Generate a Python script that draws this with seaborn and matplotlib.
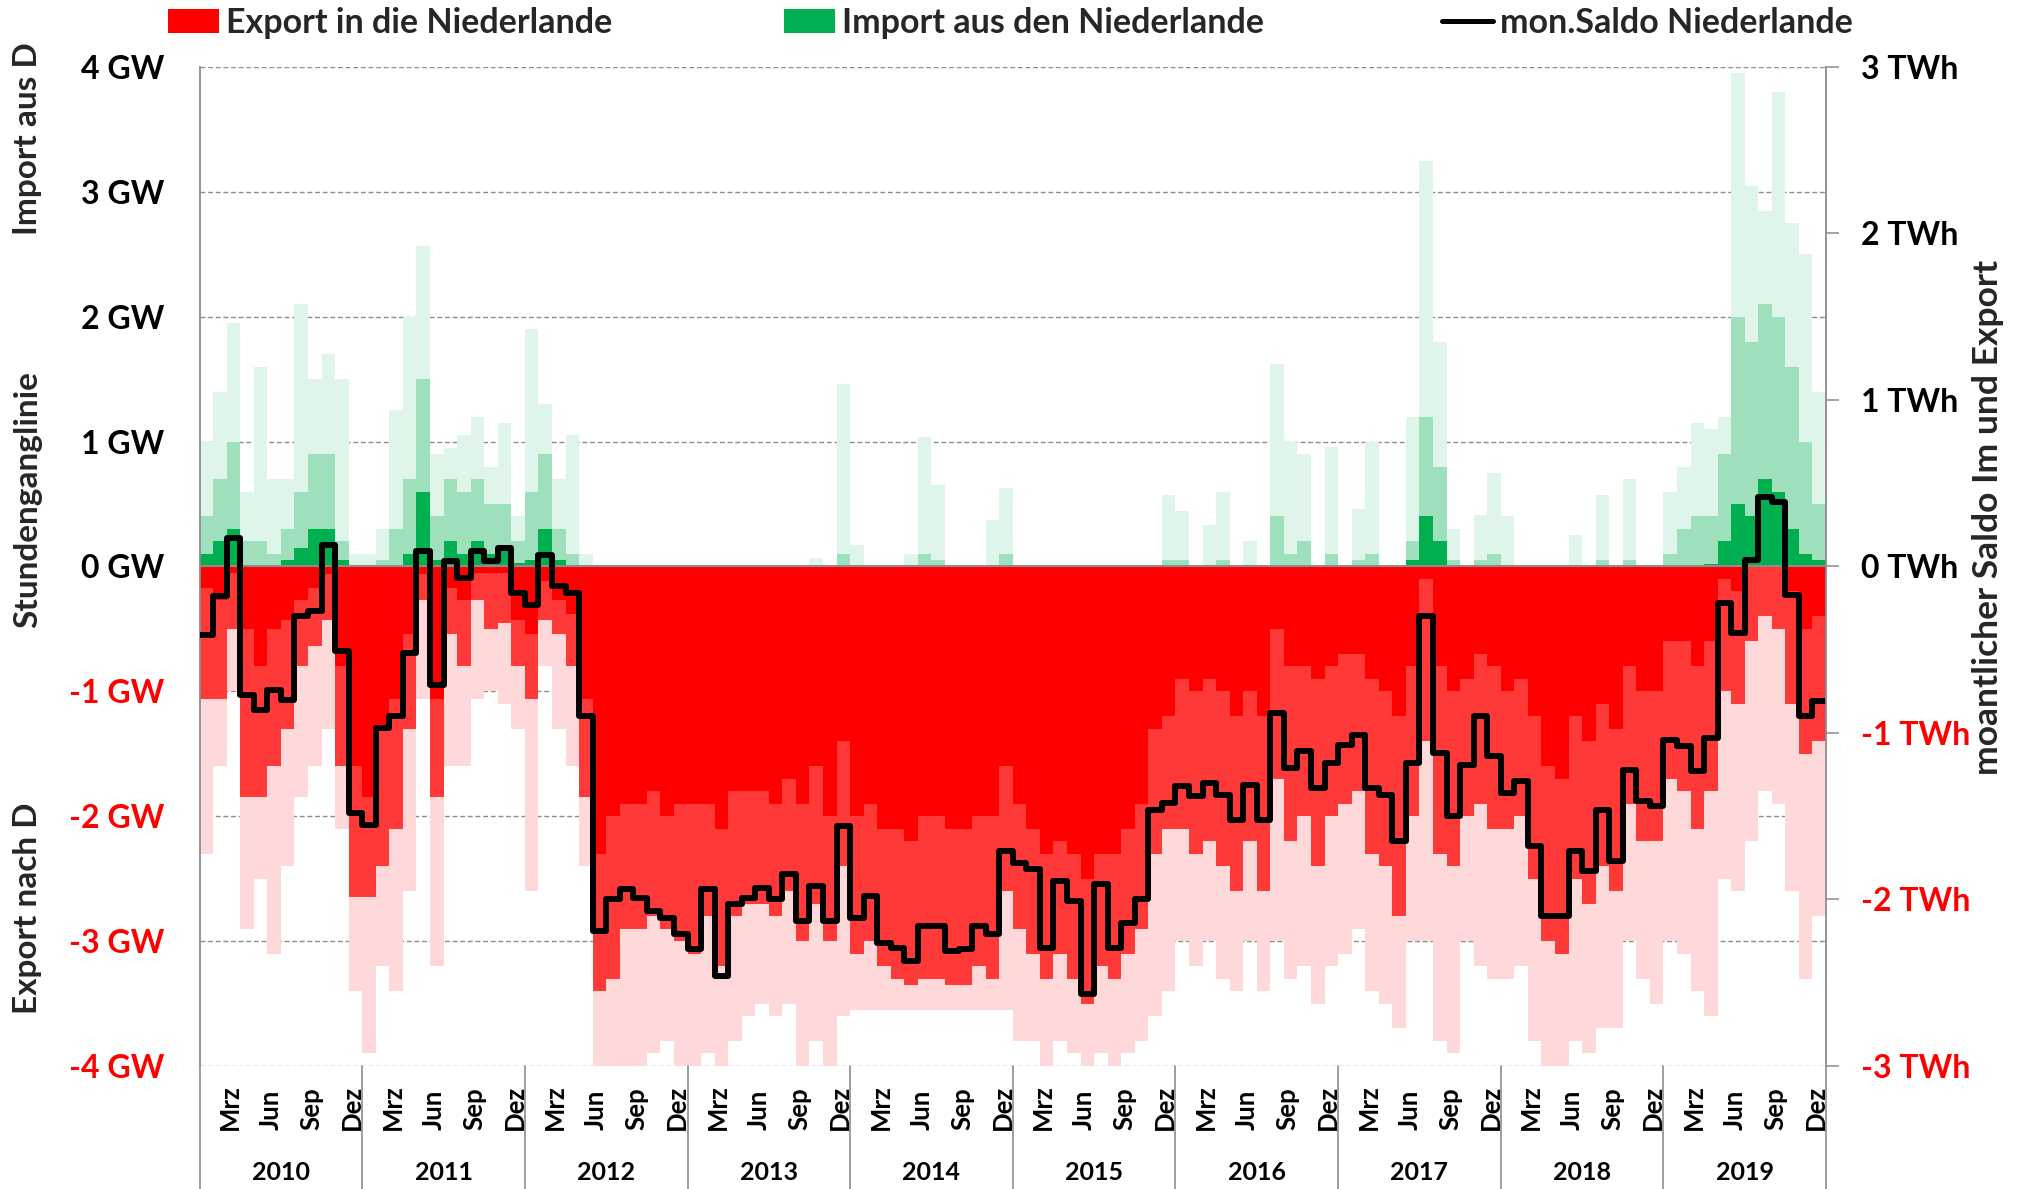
import numpy as np
import pandas as pd
import matplotlib
matplotlib.use("Agg")
import matplotlib.pyplot as plt
import seaborn as sns
from matplotlib.patches import Patch
from matplotlib.lines import Line2D

# ---------------- data ----------------
years = list(range(2010, 2020))
quarter_months = ["Mrz", "Jun", "Sep", "Dez"]
quarter_month_index = [2, 5, 8, 11]

gw_ticks = [4, 3, 2, 1, 0, -1, -2, -3, -4]
gw_labels = ["4 GW", "3 GW", "2 GW", "1 GW", "0 GW", "-1 GW", "-2 GW", "-3 GW", "-4 GW"]
twh_ticks = [3, 2, 1, 0, -1, -2, -3]
twh_labels = ["3 TWh", "2 TWh", "1 TWh", "0 TWh", "-1 TWh", "-2 TWh", "-3 TWh"]

# monthly saldo (TWh), Jan 2010 .. Dec 2019
saldo_twh = [
    -0.41, -0.18, 0.17, -0.77, -0.86, -0.74, -0.80, -0.30, -0.27, 0.13, -0.51, -1.48,   # 2010
    -1.55, -0.97, -0.90, -0.52, 0.09, -0.71, 0.03, -0.07, 0.09, 0.03, 0.11, -0.16,      # 2011
    -0.23, 0.07, -0.12, -0.16, -0.90, -2.19, -2.00, -1.94, -1.99, -2.07, -2.11, -2.21,  # 2012
    -2.30, -1.94, -2.46, -2.03, -1.99, -1.93, -2.00, -1.85, -2.13, -1.92, -2.13, -1.56,  # 2013
    -2.11, -1.98, -2.26, -2.29, -2.37, -2.16, -2.16, -2.31, -2.30, -2.16, -2.21, -1.71,  # 2014
    -1.78, -1.82, -2.29, -1.89, -2.01, -2.57, -1.91, -2.29, -2.14, -2.00, -1.46, -1.42,  # 2015
    -1.32, -1.38, -1.30, -1.37, -1.52, -1.31, -1.52, -0.88, -1.21, -1.11, -1.33, -1.18,  # 2016
    -1.07, -1.01, -1.33, -1.37, -1.65, -1.18, -0.30, -1.12, -1.50, -1.19, -0.90, -1.14,  # 2017
    -1.36, -1.29, -1.68, -2.10, -2.10, -1.71, -1.83, -1.46, -1.77, -1.22, -1.41, -1.44,  # 2018
    -1.04, -1.08, -1.23, -1.03, -0.22, -0.40, 0.04, 0.42, 0.39, -0.17, -0.90, -0.81,     # 2019
]

# hourly export envelope per month (GW): densely filled level, frequent level, extreme level
export_dense = [
    -0.17, -0.27, -0.05, -0.5, -0.8, -0.5, -0.43, -0.27, -0.17, -0.06, -0.8, -1.6,
    -1.85, -1.3, -1.06, -0.54, -0.06, -1.06, -0.17, -0.27, -0.05, -0.05, -0.05, -0.43,
    -0.54, -0.12, -0.27, -0.38, -1.06, -2.3, -2.0, -1.9, -1.9, -1.8, -2.0, -1.9,
    -1.9, -1.9, -2.1, -1.8, -1.8, -1.8, -1.9, -1.7, -1.9, -1.6, -2.0, -1.4,
    -2.0, -1.9, -2.1, -2.1, -2.2, -2.0, -2.0, -2.1, -2.1, -2.0, -2.0, -1.6,
    -1.9, -2.1, -2.3, -2.2, -2.3, -2.5, -2.3, -2.3, -2.1, -1.9, -1.3, -1.2,
    -0.9, -1.0, -0.9, -1.0, -1.2, -1.0, -1.2, -0.5, -0.8, -0.8, -0.9, -0.8,
    -0.7, -0.7, -0.9, -1.0, -1.2, -0.8, -0.1, -0.8, -1.0, -0.9, -0.7, -0.8,
    -1.0, -0.9, -1.2, -1.6, -1.7, -1.2, -1.4, -1.1, -1.3, -0.8, -1.0, -1.0,
    -0.6, -0.6, -0.8, -0.6, -0.1, -0.2, 0.0, 0.0, 0.0, -0.2, -0.5, -0.4,
]
export_mid = [
    -1.06, -1.06, -0.5, -1.85, -1.85, -1.6, -1.3, -0.8, -0.64, -0.43, -1.6, -2.65,
    -2.65, -2.4, -2.1, -1.3, -0.27, -1.85, -0.54, -0.8, -0.27, -0.5, -0.45, -0.8,
    -1.06, -0.43, -0.54, -0.8, -1.85, -3.4, -3.3, -2.9, -2.9, -2.8, -2.9, -3.0,
    -3.1, -2.8, -3.2, -2.8, -2.7, -2.7, -2.8, -2.6, -3.0, -2.7, -3.0, -2.4,
    -3.1, -3.0, -3.2, -3.3, -3.35, -3.3, -3.3, -3.35, -3.35, -3.2, -3.3, -2.6,
    -2.9, -3.1, -3.3, -3.1, -3.3, -3.5, -3.2, -3.3, -3.1, -2.9, -2.3, -2.1,
    -2.1, -2.3, -2.2, -2.4, -2.6, -2.2, -2.6, -1.7, -2.2, -2.0, -2.4, -2.0,
    -1.9, -1.8, -2.3, -2.4, -2.8, -2.0, -1.4, -2.3, -2.4, -2.0, -1.9, -2.1,
    -2.1, -2.0, -2.5, -3.0, -3.1, -2.5, -2.7, -2.4, -2.6, -1.9, -2.2, -2.2,
    -1.7, -1.8, -2.1, -1.8, -1.0, -1.1, -0.6, -0.4, -0.5, -1.1, -1.5, -1.4,
]
export_tail = [
    -2.3, -1.6, -1.0, -2.9, -2.5, -3.1, -2.4, -1.85, -1.6, -1.3, -2.1, -3.4,
    -3.9, -3.2, -3.4, -2.6, -1.06, -3.2, -1.6, -1.6, -1.06, -1.0, -1.1, -1.3,
    -2.6, -0.8, -1.3, -1.6, -2.4, -4.0, -4.0, -4.0, -4.0, -3.9, -3.8, -4.0,
    -4.0, -3.9, -4.0, -3.8, -3.6, -3.5, -3.6, -3.5, -4.0, -3.8, -4.0, -3.6,
    -3.55, -3.55, -3.55, -3.55, -3.55, -3.55, -3.55, -3.55, -3.55, -3.55, -3.55, -3.55,
    -3.8, -3.8, -4.0, -3.8, -3.9, -4.0, -3.9, -4.0, -3.9, -3.8, -3.6, -3.4,
    -3.0, -3.2, -3.0, -3.3, -3.4, -3.0, -3.4, -3.0, -3.3, -3.2, -3.5, -3.2,
    -3.1, -2.9, -3.4, -3.5, -3.7, -3.0, -3.0, -3.8, -3.9, -3.0, -3.2, -3.3,
    -3.3, -3.2, -3.8, -4.0, -4.0, -3.8, -3.9, -3.7, -3.7, -3.0, -3.3, -3.5,
    -3.0, -3.1, -3.4, -3.6, -2.5, -2.6, -2.2, -1.8, -1.9, -2.6, -3.3, -2.8,
]

# hourly import envelope per month (GW)
import_dense = [
    0.1, 0.2, 0.3, 0, 0, 0, 0.05, 0.15, 0.3, 0.3, 0.05, 0,
    0, 0, 0, 0.1, 0.6, 0.05, 0.2, 0.1, 0.2, 0.1, 0.15, 0.03,
    0.05, 0.3, 0.05, 0, 0, 0, 0, 0, 0, 0, 0, 0,
    0, 0, 0, 0, 0, 0, 0, 0, 0, 0, 0, 0,
    0, 0, 0, 0, 0, 0, 0, 0, 0, 0, 0, 0,
    0, 0, 0, 0, 0, 0, 0, 0, 0, 0, 0, 0,
    0, 0, 0, 0, 0, 0, 0, 0, 0, 0, 0, 0,
    0, 0, 0, 0, 0, 0.05, 0.4, 0.2, 0, 0, 0, 0,
    0, 0, 0, 0, 0, 0, 0, 0, 0, 0, 0, 0,
    0, 0, 0, 0.02, 0.2, 0.5, 0.4, 0.7, 0.6, 0.3, 0.1, 0.05,
]
import_mid = [
    0.4, 0.7, 1.0, 0.2, 0.2, 0.1, 0.3, 0.6, 0.9, 0.9, 0.2, 0,
    0, 0.05, 0.3, 0.7, 1.5, 0.4, 0.7, 0.6, 0.7, 0.5, 0.5, 0.2,
    0.6, 0.9, 0.3, 0.1, 0, 0, 0, 0, 0, 0, 0, 0,
    0, 0, 0, 0, 0, 0, 0, 0, 0, 0, 0, 0.1,
    0, 0, 0, 0, 0, 0.1, 0.05, 0, 0, 0, 0, 0.1,
    0, 0, 0, 0, 0, 0, 0, 0, 0, 0, 0, 0.05,
    0.05, 0, 0, 0.05, 0, 0, 0, 0.4, 0.1, 0.2, 0, 0.1,
    0, 0.05, 0.1, 0, 0, 0.2, 1.2, 0.8, 0.05, 0, 0.05, 0.1,
    0, 0, 0, 0, 0, 0, 0, 0.05, 0, 0.05, 0, 0,
    0.1, 0.3, 0.4, 0.4, 0.9, 2.0, 1.8, 2.1, 2.0, 1.6, 1.0, 0.5,
]
import_tail = [
    1.0, 1.4, 1.95, 0.6, 1.6, 0.7, 0.7, 2.1, 1.5, 1.7, 1.5, 0.1,
    0.1, 0.3, 1.25, 2.0, 2.57, 0.9, 0.95, 1.05, 1.2, 0.8, 1.15, 0.4,
    1.9, 1.3, 0.7, 1.05, 0.1, 0, 0, 0, 0, 0, 0, 0,
    0, 0, 0, 0, 0, 0, 0, 0, 0, 0.07, 0, 1.46,
    0.17, 0, 0, 0, 0.1, 1.04, 0.65, 0, 0, 0, 0.37, 0.63,
    0, 0, 0, 0, 0, 0, 0, 0, 0, 0, 0, 0.57,
    0.44, 0, 0.33, 0.6, 0, 0.2, 0, 1.62, 1.0, 0.9, 0, 0.96,
    0, 0.46, 1.0, 0, 0, 1.2, 3.25, 1.8, 0.3, 0, 0.41, 0.75,
    0.4, 0, 0, 0, 0, 0.25, 0, 0.57, 0, 0.7, 0, 0,
    0.6, 0.8, 1.15, 1.1, 1.2, 3.95, 3.05, 2.85, 3.8, 2.75, 2.5, 1.4,
]

# ---------------- style ----------------
sns.set_theme(style="white")
plt.rcParams["font.family"] = ["Lato", "DejaVu Sans"]
plt.rcParams["font.weight"] = "bold"

RED, RED_MID, RED_TAIL = "#FF0000", "#FF3838", "#FFD9D9"
GREEN, GREEN_MID, GREEN_TAIL = "#00B050", "#9FE0BC", "#E0F5E9"
GRID = "#8C8C8C"

n = len(saldo_twh)
edges = np.arange(n + 1)


def ext(v):
    v = np.asarray(v, dtype=float)
    return np.append(v, v[-1])


fig = plt.figure(figsize=(20.24, 11.89), dpi=100)
ax = fig.add_axes([0.0986, 0.1035, 0.8036, 0.8402])
ax.set_xlim(0, n)
ax.set_ylim(-4, 4)

# export (negative) bands
ax.fill_between(edges, ext(export_mid), ext(export_tail), step="post", color=RED_TAIL, lw=0, zorder=1)
ax.fill_between(edges, ext(export_dense), ext(export_mid), step="post", color=RED_MID, lw=0, zorder=1)
ax.fill_between(edges, 0, ext(export_dense), step="post", color=RED, lw=0, zorder=1)
# import (positive) bands
ax.fill_between(edges, ext(import_mid), ext(import_tail), step="post", color=GREEN_TAIL, lw=0, zorder=1)
ax.fill_between(edges, ext(import_dense), ext(import_mid), step="post", color=GREEN_MID, lw=0, zorder=1)
ax.fill_between(edges, 0, ext(import_dense), step="post", color=GREEN, lw=0, zorder=1)

ax.axhline(0, color=GRID, lw=1.5, zorder=2)

ax.set_yticks(gw_ticks)
ax.set_yticklabels(gw_labels)
ax.yaxis.grid(True, ls=(0, (3.5, 2)), color=GRID, lw=1.0)
ax.xaxis.grid(False)
ax.set_axisbelow(True)
ax.tick_params(axis="y", left=True, length=0, pad=25.5, labelsize=23)
for lbl, v in zip(ax.get_yticklabels(), gw_ticks):
    lbl.set_color("red" if v < 0 else "black")
    lbl.set_fontweight("bold")

for side in ["top", "bottom", "right"]:
    ax.spines[side].set_visible(False)
ax.spines["left"].set_color(GRID)
ax.spines["left"].set_linewidth(1.3)

ax.set_xticks([])
xt = ax.get_xaxis_transform()
for yi, yr in enumerate(years):
    for m, lab in zip(quarter_month_index, quarter_months):
        ax.text(yi * 12 + m + 0.25, -0.064, lab, transform=xt, rotation=90,
                ha="center", va="bottom", fontsize=18.5, fontweight="bold", color="black")
    ax.text(yi * 12 + 6, -0.107, str(yr), transform=xt, ha="center", va="center",
            fontsize=18, fontweight="bold", color="black")
for b in range(0, n + 1, 12):
    ax.plot([b, b], [0, -0.13], transform=xt, color=GRID, lw=1.2, clip_on=False)

# secondary axis: monthly saldo
ax2 = ax.twinx()
df = pd.DataFrame({"month": edges, "saldo": ext(saldo_twh)})
sns.lineplot(data=df, x="month", y="saldo", drawstyle="steps-post", color="black",
             lw=4.3, ax=ax2, legend=False)
ax2.set_xlim(0, n)
ax2.set_ylim(-3, 3)
ax2.set_xlabel("")
ax2.set_ylabel("")
ax2.grid(False)
ax2.set_yticks(twh_ticks)
ax2.set_yticklabels(twh_labels)
ax2.yaxis.set_ticks_position("right")
ax2.tick_params(axis="y", right=True, length=9.4, width=1.1, color=GRID, direction="out",
                pad=15.8, labelsize=23)
for lbl, v in zip(ax2.get_yticklabels(), twh_ticks):
    lbl.set_color("red" if v < 0 else "black")
    lbl.set_fontweight("bold")
for side in ["top", "bottom", "left"]:
    ax2.spines[side].set_visible(False)
ax2.spines["right"].set_color(GRID)
ax2.spines["right"].set_linewidth(1.3)

# axis titles
fs = 24
fig.text(28 / 2024, 1 - 139 / 1189, "Import aus D", rotation=90, ha="center", va="center",
         fontsize=fs, fontweight="bold")
fig.text(28 / 2024, 1 - 500 / 1189, "Stundenganglinie", rotation=90, ha="center", va="center",
         fontsize=fs, fontweight="bold")
fig.text(28 / 2024, 1 - 908 / 1189, "Export nach D", rotation=90, ha="center", va="center",
         fontsize=fs, fontweight="bold")
fig.text(1988 / 2024, 1 - 517 / 1189, "moantlicher Saldo Im und Export", rotation=90,
         ha="center", va="center", fontsize=25.5, fontweight="bold")

# legend
leg_items = [
    (Patch(facecolor=RED, edgecolor="none"), "Export in die Niederlande", 168),
    (Patch(facecolor=GREEN, edgecolor="none"), "Import aus den Niederlande", 784),
    (Line2D([0], [0], color="black", lw=3.6), "mon.Saldo Niederlande", 1442),
]
for handle, text, x0 in leg_items:
    fig.legend([handle], [text], loc="center left", bbox_to_anchor=(x0 / 2024, 1 - 23 / 1189),
               frameon=False, borderpad=0, borderaxespad=0, handlelength=1.5,
               handleheight=0.68, handletextpad=0.2,
               prop={"size": 24.5, "weight": "bold"})

fig.savefig("out.png", dpi=100, facecolor="white")
